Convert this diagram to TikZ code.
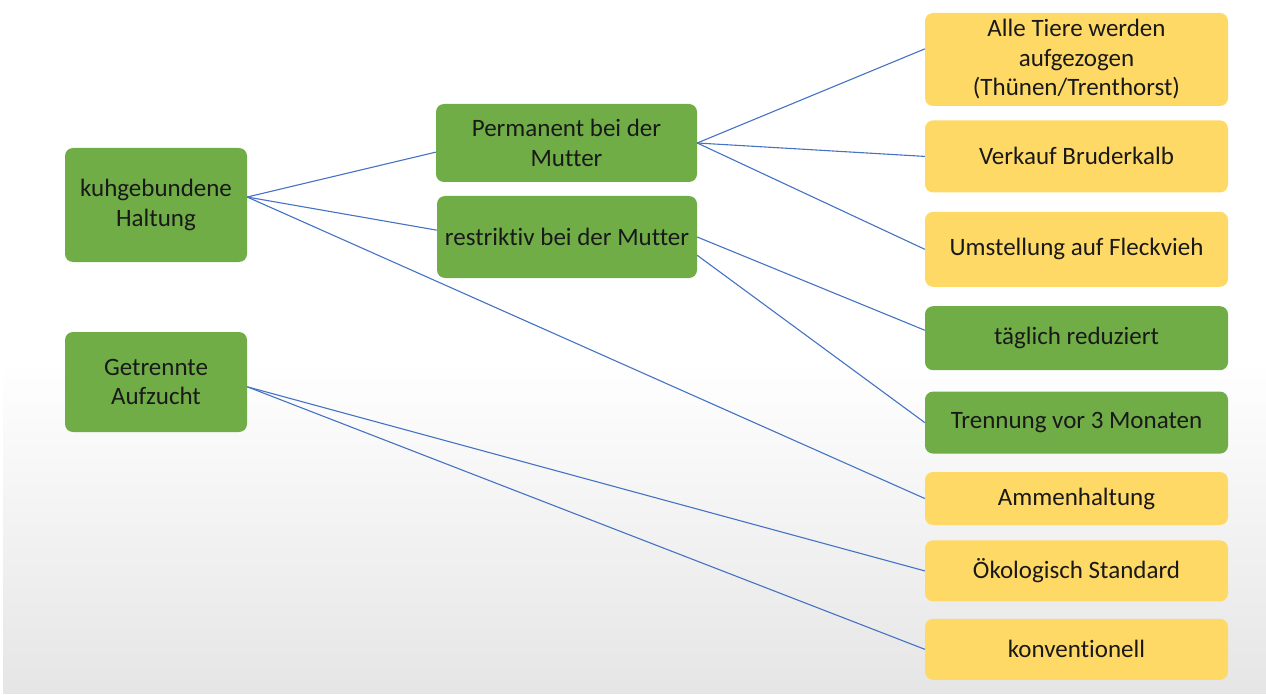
\documentclass[tikz,border=0pt]{standalone}
\usepackage{fontspec}
\setmainfont[Ligatures=NoCommon]{Carlito}
\usepackage{tikz}
\usetikzlibrary{positioning}

\definecolor{boxgreen}{HTML}{70AD47}
\definecolor{boxyellow}{HTML}{FFD966}
\definecolor{linkblue}{HTML}{4472C4}

\begin{document}
\begin{tikzpicture}[x=1pt,y=-1pt,font=\fontsize{25}{29.5}\selectfont,
                    every edge/.style={draw=linkblue,line width=1.1pt}]
  \tikzstyle{box}=[rounded corners=8pt,draw=none,align=center,inner sep=0pt,text=black!90]
  \tikzstyle{gruen}=[box,fill=boxgreen]
  \tikzstyle{gelb}=[box,fill=boxyellow]
  \tikzstyle{rechts}=[minimum width=303pt]

  \useasboundingbox (0,0) rectangle (1266,695);
  \shade[top color=white,bottom color=gray!20] (3,360) rectangle (1266,693);

  \node[gruen, minimum width=182pt, minimum height=114pt] (kuh)   at (156,205)   {kuhgebundene\\Haltung};
  \node[gruen, minimum width=182pt, minimum height=100pt] (getr)  at (156,382)   {Getrennte\\Aufzucht};
  \node[gruen, minimum width=261pt, minimum height=78pt]  (perm)  at (566.5,143) {Permanent bei der\\Mutter};
  \node[gruen, minimum width=260pt, minimum height=82pt]  (restr) at (567,237)   {restriktiv bei der Mutter};

  \node[gelb, rechts, minimum height=93pt] (alle) at (1076.5,59.5) {Alle Tiere werden\\aufgezogen\\(Thünen/Trenthorst)};
  \node[gelb, rechts, minimum height=72pt]  (verk) [below=14pt of alle] {Verkauf Bruderkalb};
  \node[gelb, rechts, minimum height=75pt]  (umst) [below=19pt of verk] {Umstellung auf Fleckvieh};
  \node[gruen, rechts, minimum height=64pt] (tagl) [below=19pt of umst] {täglich reduziert};
  \node[gruen, rechts, minimum height=62pt] (tren) [below=21pt of tagl] {Trennung vor 3 Monaten};
  \node[gelb, rechts, minimum height=53pt]  (amme) [below=18pt of tren] {Ammenhaltung};
  \node[gelb, rechts, minimum height=61pt]  (oeko) [below=15pt of amme] {Ökologisch Standard};
  \node[gelb, rechts, minimum height=61pt]  (konv) [below=17pt of oeko] {konventionell};

  \path (kuh.5) edge (perm.184)
                edge (restr.177)
                edge (amme.west)
        (getr.357) edge (oeko.west)
                   edge (konv.west)
        (perm.east) edge (alle.176)
                    edge (verk.west)
                    edge (umst.west)
        (restr.east) edge (tagl.177)
        (restr.-8) edge (tren.west);
\end{tikzpicture}
\end{document}
